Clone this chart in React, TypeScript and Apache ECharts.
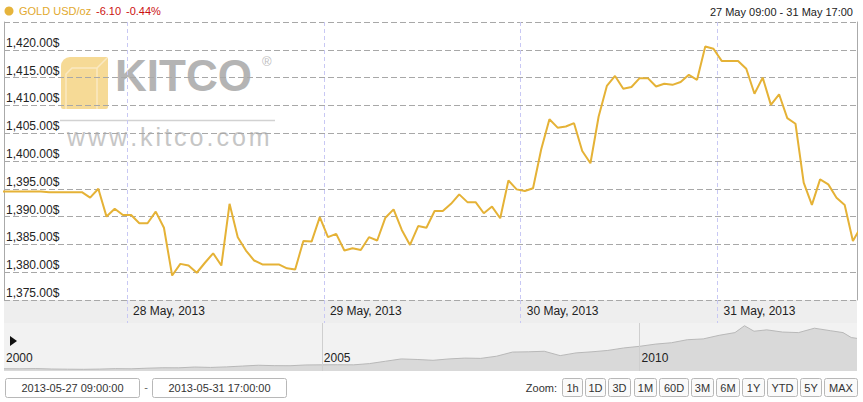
import React, { useEffect, useRef } from 'react';
import * as echarts from 'echarts';

// ---- data ----
const GOLD_START = '2013-05-27 08:30'; // hourly points (at :30) from this time
const GOLD_PRICES = [
  1394.5, 1394.5, 1394.5, 1394.5, 1394.5, 1394.5, 1394.4, 1394.4, 1394.4, 1394.4,
  1394.4, 1393.4, 1395.0, 1390.0, 1391.4, 1390.3, 1390.3, 1388.8, 1388.8, 1390.9,
  1388.0, 1379.4, 1381.5, 1381.2, 1379.9, 1381.7, 1383.4, 1381.2, 1392.3, 1386.3,
  1383.9, 1382.1, 1381.4, 1381.4, 1381.4, 1380.7, 1380.5, 1385.6, 1385.5, 1389.9,
  1386.3, 1386.9, 1383.9, 1384.3, 1384.0, 1386.3, 1385.7, 1389.8, 1391.3, 1387.6,
  1384.9, 1388.3, 1388.0, 1391.0, 1391.0, 1392.3, 1394.0, 1392.6, 1392.6, 1390.6,
  1391.8, 1389.7, 1396.5, 1394.9, 1394.6, 1395.1, 1402.1, 1407.5, 1406.0, 1406.2,
  1406.8, 1401.8, 1399.6, 1408.0, 1413.5, 1415.3, 1413.0, 1413.3, 1414.9, 1414.9,
  1413.4, 1413.9, 1413.7, 1414.2, 1415.5, 1414.6, 1420.6, 1420.2, 1418.0, 1418.0,
  1418.0, 1416.6, 1412.1, 1415.0, 1410.1, 1412.0, 1407.7, 1406.7, 1396.1, 1392.1,
  1396.7, 1395.8, 1393.4, 1392.1, 1385.6, 1388.2,
];
const VIEW_FROM = '2013-05-27 09:00';
const VIEW_TO = '2013-05-31 17:00';
const PRICE_MIN = 1375;
const PRICE_MAX = 1425;
const PRICE_STEP = 5;

const NAV_YEARS = [
  2000.0, 2000.25, 2000.5, 2000.75, 2001.0, 2001.25, 2001.5, 2001.75,
  2002.0, 2002.25, 2002.5, 2002.75, 2003.0, 2003.25, 2003.5, 2003.75,
  2004.0, 2004.25, 2004.5, 2004.75, 2005.0, 2005.25, 2005.5, 2005.75,
  2006.0, 2006.25, 2006.5, 2006.75, 2007.0, 2007.25, 2007.5, 2007.75,
  2008.0, 2008.25, 2008.5, 2008.75, 2009.0, 2009.25, 2009.5, 2009.75,
  2010.0, 2010.25, 2010.5, 2010.75, 2011.0, 2011.25, 2011.5, 2011.65, 2011.8,
  2012.0, 2012.25, 2012.5, 2012.75, 2013.0, 2013.2, 2013.33, 2013.42,
];
const NAV_PRICES = [
  282, 280, 288, 272, 266, 262, 270, 286,
  280, 302, 318, 316, 345, 330, 350, 380,
  410, 395, 392, 420, 425, 428, 425, 470,
  555, 640, 620, 590, 640, 670, 660, 740,
  890, 900, 920, 760, 860, 900, 950, 1040,
  1100, 1180, 1230, 1340, 1370, 1500, 1600, 1850, 1650,
  1700, 1620, 1600, 1760, 1670, 1600, 1420, 1390,
];
const NAV_FROM = 2000;
const NAV_TO = 2013.42;
const NAV_TICKS = [2000, 2005, 2010];

const LEGEND_NAME = 'GOLD USD/oz';
const LEGEND_CHANGE = '-6.10';
const LEGEND_PCT = '-0.44%';
const RANGE_TITLE = '27 May 09:00 - 31 May 17:00';
const RANGE_FROM_TEXT = '2013-05-27 09:00:00';
const RANGE_TO_TEXT = '2013-05-31 17:00:00';
const ZOOM_BUTTONS = ['1h', '1D', '3D', '1M', '60D', '3M', '6M', '1Y', 'YTD', '5Y', 'MAX'];
const MONTHS = ['Jan', 'Feb', 'Mar', 'Apr', 'May', 'Jun', 'Jul', 'Aug', 'Sep', 'Oct', 'Nov', 'Dec'];

// ---- layout (decoration only) ----
const BUTTON_BOXES: [number, number][] = [
  [562, 20], [585, 20], [608, 22], [634, 22], [659, 29], [691, 22],
  [716, 23], [742, 22], [767, 30], [800, 21], [824, 33],
];

const FONT = '"Liberation Sans", Arial, Helvetica, sans-serif';
const HOUR = 3600000;

function parseLocal(s: string): number {
  const [d, t] = s.split(' ');
  const [y, m, day] = d.split('-').map(Number);
  const [hh, mm] = t.split(':').map(Number);
  return new Date(y, m - 1, day, hh, mm).getTime();
}

function fmtPrice(v: number): string {
  return v.toLocaleString('en-US', { minimumFractionDigits: 2, maximumFractionDigits: 2 }) + '$';
}

function watermark(): any[] {
  const els: any[] = [];
  // gold cube
  els.push({
    type: 'rect', z: -10, silent: true,
    shape: { x: 61, y: 57, width: 47, height: 52, r: [9, 2, 2, 2] },
    style: { fill: '#f6da96' },
  });
  els.push({
    type: 'polyline', z: -9, silent: true,
    shape: { points: [[66, 109], [66, 74], [72, 68], [97, 68], [107, 58]] },
    style: { stroke: '#fae9c2', lineWidth: 1.5, fill: null },
  });
  els.push({
    type: 'line', z: -9, silent: true,
    shape: { x1: 97, y1: 68, x2: 97, y2: 109 },
    style: { stroke: '#fae9c2', lineWidth: 1.5 },
  });
  els.push({
    type: 'text', z: -10, silent: true, x: 115, y: 53,
    style: { text: 'KITCO', fill: '#b4b4b4', font: 'bold 44px ' + FONT },
  });
  els.push({
    type: 'text', z: -10, silent: true, x: 262, y: 55,
    style: { text: '®', fill: '#bdbdbd', font: '13px ' + FONT },
  });
  els.push({
    type: 'line', z: -10, silent: true,
    shape: { x1: 60, y1: 120.5, x2: 275, y2: 120.5 },
    style: { stroke: '#d2d2d2', lineWidth: 1.5 },
  });
  const widths: Record<string, number> = { w: 0.722, '.': 0.278, k: 0.5, i: 0.222, t: 0.278, c: 0.5, o: 0.556, m: 0.833 };
  let x = 67;
  for (const ch of 'www.kitco.com') {
    els.push({
      type: 'text', z: -10, silent: true, x, y: 124,
      style: { text: ch, fill: '#c6c6c6', font: '25px ' + FONT },
    });
    x += widths[ch] * 25 + 3;
  }
  return els;
}

export default function App() {
  const ref = useRef<HTMLDivElement>(null);

  useEffect(() => {
    if (!ref.current) return;
    const chart = echarts.init(ref.current, undefined, { renderer: 'svg' });
    const start = parseLocal(GOLD_START);
    const goldData = GOLD_PRICES.map((v, i) => [start + i * HOUR, v]);
    const navData = NAV_YEARS.map((y, i) => [y, NAV_PRICES[i]]);

    const graphics: any[] = [
      ...watermark(),
      // axis label band
      {
        type: 'rect', z: -20, silent: true,
        shape: { x: 4, y: 300, width: 853, height: 23 },
        style: { fill: '#eeeeee' },
      },
      // legend
      { type: 'circle', shape: { cx: 9, cy: 11, r: 4.5 }, style: { fill: '#e6b43c' } },
      {
        type: 'text', x: 19, y: 11,
        style: { text: LEGEND_NAME, fill: '#e2a92e', font: '11px ' + FONT, verticalAlign: 'middle' },
      },
      {
        type: 'text', x: 96, y: 11,
        style: { text: LEGEND_CHANGE, fill: '#cc1111', font: '11px ' + FONT, verticalAlign: 'middle' },
      },
      {
        type: 'text', x: 126, y: 11,
        style: { text: LEGEND_PCT, fill: '#cc1111', font: '11px ' + FONT, verticalAlign: 'middle' },
      },
      {
        type: 'text', x: 853, y: 12,
        style: { text: RANGE_TITLE, fill: '#222', font: '11px ' + FONT, align: 'right', verticalAlign: 'middle' },
      },
      // play triangle
      { type: 'polygon', shape: { points: [[10, 336], [10, 346], [17, 341]] }, style: { fill: '#111' } },
      // range inputs
      {
        type: 'rect', shape: { x: 5.5, y: 378.5, width: 134, height: 19, r: 2 },
        style: { fill: '#fff', stroke: '#b8b8b8', lineWidth: 1 },
      },
      {
        type: 'text', x: 72.5, y: 388,
        style: { text: RANGE_FROM_TEXT, fill: '#333', font: '11px ' + FONT, align: 'center', verticalAlign: 'middle' },
      },
      {
        type: 'text', x: 146, y: 387,
        style: { text: '-', fill: '#666', font: '11px ' + FONT, align: 'center', verticalAlign: 'middle' },
      },
      {
        type: 'rect', shape: { x: 152.5, y: 378.5, width: 134, height: 19, r: 2 },
        style: { fill: '#fff', stroke: '#b8b8b8', lineWidth: 1 },
      },
      {
        type: 'text', x: 219.5, y: 388,
        style: { text: RANGE_TO_TEXT, fill: '#333', font: '11px ' + FONT, align: 'center', verticalAlign: 'middle' },
      },
      {
        type: 'text', x: 557, y: 388,
        style: { text: 'Zoom:', fill: '#333', font: '11px ' + FONT, align: 'right', verticalAlign: 'middle' },
      },
    ];
    ZOOM_BUTTONS.forEach((label, i) => {
      const [bx, bw] = BUTTON_BOXES[i];
      graphics.push({
        type: 'rect', shape: { x: bx + 0.5, y: 378.5, width: bw, height: 18, r: 2 },
        style: { fill: '#fafafa', stroke: '#b8b8b8', lineWidth: 1 },
      });
      graphics.push({
        type: 'text', x: bx + 0.5 + bw / 2, y: 388,
        style: { text: label, fill: '#333', font: '11px ' + FONT, align: 'center', verticalAlign: 'middle' },
      });
    });

    chart.setOption({
      animation: false,
      backgroundColor: '#ffffff',
      textStyle: { fontFamily: FONT },
      grid: [
        { left: 4, right: 6, top: 22, bottom: 102 },
        { left: 4, right: 6, top: 323, height: 48, show: true, backgroundColor: '#f2f2f2', borderWidth: 0 },
      ],
      xAxis: [
        {
          type: 'time', gridIndex: 0,
          min: parseLocal(VIEW_FROM), max: parseLocal(VIEW_TO),
          minInterval: 24 * HOUR, maxInterval: 24 * HOUR,
          axisLine: { show: false },
          axisTick: { show: true, length: 23, lineStyle: { color: '#c8c8f4', type: [4, 3] } },
          splitLine: { show: true, lineStyle: { color: '#c8c8f4', type: [4, 3] } },
          axisLabel: {
            color: '#222', fontSize: 12, margin: 5, align: 'left', padding: [0, 0, 0, 6],
            showMinLabel: false, showMaxLabel: false,
            formatter: (v: number) => {
              const d = new Date(v);
              return `${d.getDate()} ${MONTHS[d.getMonth()]}, ${d.getFullYear()}`;
            },
          },
        },
        {
          type: 'value', gridIndex: 1, z: 10,
          min: NAV_FROM, max: NAV_TO,
          axisLine: { show: false },
          axisTick: { show: false, customValues: NAV_TICKS },
          splitLine: { show: false },
          axisLabel: {
            inside: true, align: 'left', margin: 7, color: '#222', fontSize: 12,
            padding: [0, 0, 0, 2], customValues: NAV_TICKS,
            formatter: (v: number) => String(v),
          },
        },
      ],
      yAxis: [
        {
          type: 'value', gridIndex: 0, position: 'left',
          min: PRICE_MIN, max: PRICE_MAX, interval: PRICE_STEP,
          axisLine: { show: true, lineStyle: { color: '#aaaaaa' } },
          axisTick: { show: false },
          splitLine: { show: true, lineStyle: { color: '#a8a8a8', type: [6, 3] } },
          axisLabel: {
            inside: true, margin: 2, align: 'left', verticalAlign: 'bottom',
            color: '#222', fontSize: 12, showMaxLabel: false, padding: [0, 0, 1, 0],
            formatter: fmtPrice,
          },
        },
        {
          type: 'value', gridIndex: 0, position: 'right',
          min: PRICE_MIN, max: PRICE_MAX, interval: PRICE_STEP,
          axisLine: { show: true, lineStyle: { color: '#aaaaaa' } },
          axisTick: { show: false }, axisLabel: { show: false }, splitLine: { show: false },
        },
        {
          type: 'value', gridIndex: 1, min: 200, max: 1950, show: false,
        },
      ],
      series: [
        {
          type: 'line', xAxisIndex: 0, yAxisIndex: 0, data: goldData,
          showSymbol: false, clip: true, silent: true,
          lineStyle: { color: '#e5b236', width: 2 },
          z: 3,
        },
        {
          type: 'line', xAxisIndex: 1, yAxisIndex: 2, data: navData,
          showSymbol: false, silent: true,
          lineStyle: { color: '#b8b8b8', width: 1 },
          areaStyle: { color: '#d9d9d9', opacity: 1 },
          markLine: {
            silent: true, symbol: 'none', label: { show: false },
            lineStyle: { color: '#cfcfcf', width: 1, type: 'solid' },
            data: NAV_TICKS.slice(1).map((y) => ({ xAxis: y })),
          },
        },
      ],
      graphic: { elements: graphics },
    });

    return () => chart.dispose();
  }, []);

  return (
    <div style={{ position: 'fixed', left: 0, top: 0, width: 863, height: 402 }}>
      <div ref={ref} style={{ width: 863, height: 402 }} />
    </div>
  );
}
